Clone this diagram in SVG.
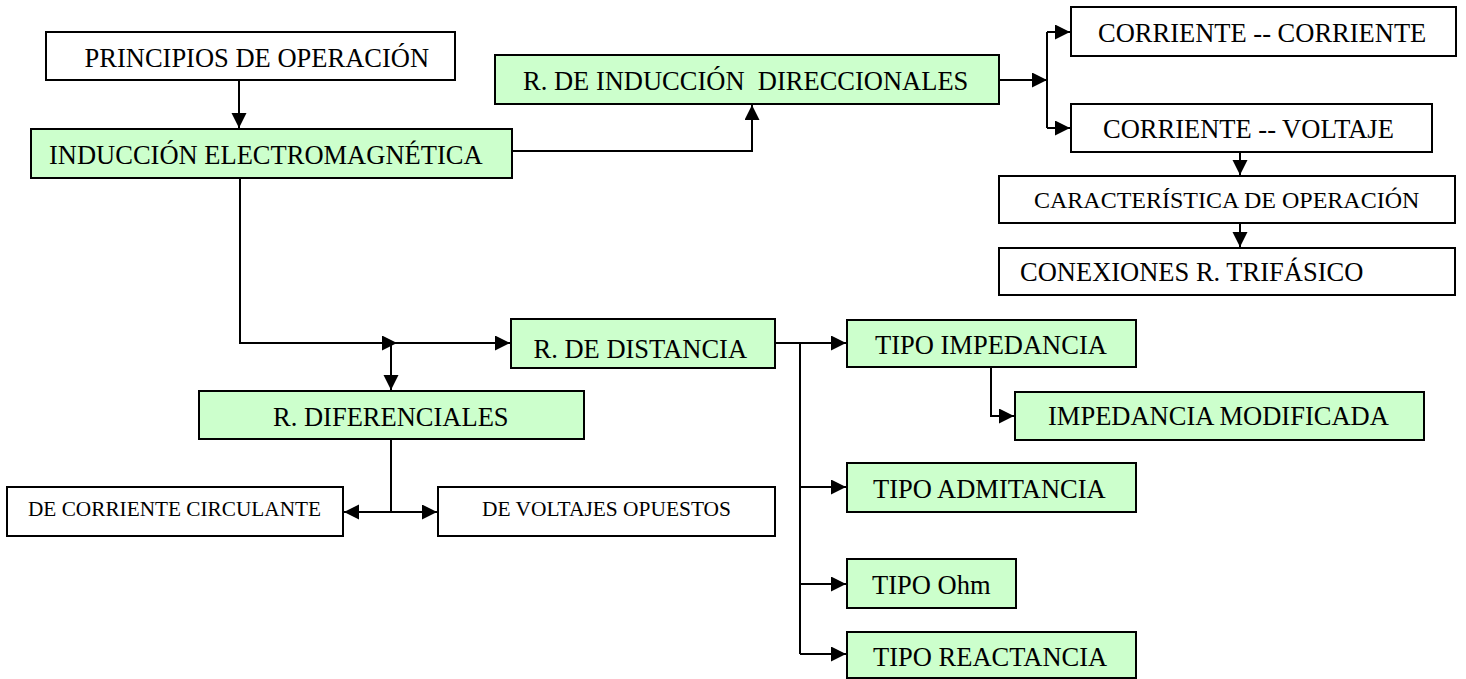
<svg xmlns="http://www.w3.org/2000/svg" width="1466" height="679" viewBox="0 0 1466 679">
<style>
.box{stroke:#000;stroke-width:2}
.g{fill:#CCFFCC}
.w{fill:#FFFFFF}
text{font-family:"Liberation Serif","Times New Roman",serif;font-size:26.5px;fill:#000;white-space:pre}
.sm{font-size:24px}
.xs{font-size:22px}
.c{fill:none;stroke:#000;stroke-width:2}
</style>
<defs>
<marker id="ah" markerUnits="userSpaceOnUse" markerWidth="16" markerHeight="16" refX="15" refY="7.5" orient="auto">
<path d="M0,0 L15,7.5 L0,15 z" fill="#000"/>
</marker>
</defs>
<rect width="1466" height="679" fill="#FFFFFF"/>
<g id="connectors">
<path class="c" d="M239,80 V128" marker-end="url(#ah)"/>
<path class="c" d="M512,151 H752 V105" marker-end="url(#ah)"/>
<path class="c" d="M999,80 H1047" marker-end="url(#ah)"/>
<path class="c" d="M1047,32 V128"/>
<path class="c" d="M1047,32 H1070" marker-end="url(#ah)"/>
<path class="c" d="M1047,128 H1070" marker-end="url(#ah)"/>
<path class="c" d="M1240,152 V175" marker-end="url(#ah)"/>
<path class="c" d="M1240,223 V247" marker-end="url(#ah)"/>
<path class="c" d="M240,178 V343 H397" marker-end="url(#ah)"/>
<path class="c" d="M391,343 H510" marker-end="url(#ah)"/>
<path class="c" d="M391,343 V390" marker-end="url(#ah)"/>
<path class="c" d="M391,439 V512"/>
<path class="c" d="M391,512 H344" marker-end="url(#ah)"/>
<path class="c" d="M391,512 H437" marker-end="url(#ah)"/>
<path class="c" d="M775,343 H846" marker-end="url(#ah)"/>
<path class="c" d="M800,343 V654"/>
<path class="c" d="M800,487 H846" marker-end="url(#ah)"/>
<path class="c" d="M800,584 H846" marker-end="url(#ah)"/>
<path class="c" d="M800,654 H846" marker-end="url(#ah)"/>
<path class="c" d="M991,367 V416 H1014" marker-end="url(#ah)"/>
</g>
<g id="principios"><rect class="box w" x="46" y="32" width="409" height="48"/><text x="84.5" y="67">PRINCIPIOS DE OPERACIÓN</text></g>
<g id="induccion"><rect class="box g" x="31" y="129" width="481" height="49"/><text x="49" y="164">INDUCCIÓN ELECTROMAGNÉTICA</text></g>
<g id="direccionales"><rect class="box g" x="495" y="55" width="504" height="49"/><text x="523" y="90">R. DE INDUCCIÓN  DIRECCIONALES</text></g>
<g id="corr-corr"><rect class="box w" x="1071" y="7" width="385" height="49"/><text x="1098" y="42">CORRIENTE -- CORRIENTE</text></g>
<g id="corr-volt"><rect class="box w" x="1071" y="104" width="361" height="48"/><text x="1103" y="138">CORRIENTE -- VOLTAJE</text></g>
<g id="caracteristica"><rect class="box w" x="999" y="176" width="456" height="47"/><text class="sm" x="1034" y="208">CARACTERÍSTICA DE OPERACIÓN</text></g>
<g id="conexiones"><rect class="box w" x="999" y="248" width="456" height="47"/><text x="1020" y="281">CONEXIONES R. TRIFÁSICO</text></g>
<g id="distancia"><rect class="box g" x="511" y="319" width="264" height="49"/><text x="533.5" y="358">R. DE DISTANCIA</text></g>
<g id="diferenciales"><rect class="box g" x="199" y="391" width="385" height="48"/><text x="273" y="426">R. DIFERENCIALES</text></g>
<g id="circulante"><rect class="box w" x="7" y="487" width="336" height="49"/><text class="xs" x="28" y="516" textLength="293" lengthAdjust="spacingAndGlyphs">DE CORRIENTE CIRCULANTE</text></g>
<g id="opuestos"><rect class="box w" x="438" y="487" width="337" height="49"/><text class="xs" x="482" y="516" textLength="249" lengthAdjust="spacingAndGlyphs">DE VOLTAJES OPUESTOS</text></g>
<g id="impedancia"><rect class="box g" x="847" y="320" width="289" height="47"/><text x="875" y="354">TIPO IMPEDANCIA</text></g>
<g id="modificada"><rect class="box g" x="1015" y="392" width="409" height="48"/><text x="1048" y="425">IMPEDANCIA MODIFICADA</text></g>
<g id="admitancia"><rect class="box g" x="847" y="463" width="289" height="49"/><text x="873" y="498">TIPO ADMITANCIA</text></g>
<g id="ohm"><rect class="box g" x="847" y="559" width="169" height="49"/><text x="872" y="594">TIPO Ohm</text></g>
<g id="reactancia"><rect class="box g" x="847" y="632" width="289" height="46"/><text x="873" y="666">TIPO REACTANCIA</text></g>
</svg>
